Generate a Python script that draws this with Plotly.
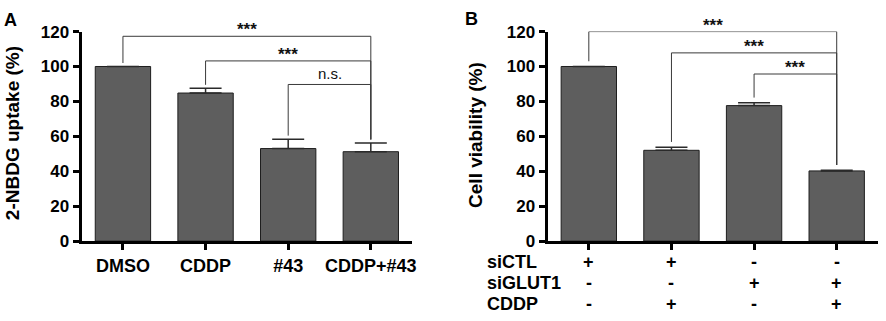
import plotly.graph_objects as go

# ---------------- data ----------------
cats_a = ["DMSO", "CDDP", "#43", "CDDP+#43"]
vals_a = [100, 84.8, 53.0, 51.2]
errs_a = [0, 2.7, 5.4, 5.0]

vals_b = [100, 52.0, 77.6, 40.2]
errs_b = [0, 1.8, 1.6, 0.4]
row_labels_b = ["siCTL", "siGLUT1", "CDDP"]
row_siCTL = ["+", "+", "-", "-"]
row_siGLUT1 = ["-", "-", "+", "+"]
row_CDDP = ["-", "+", "-", "+"]

# comparisons: (left index, right index, bracket height, label)
comp_a = [(0, 3, 117.3, "***"), (1, 3, 103.2, "***"), (2, 3, 89.7, "n.s.")]
comp_b = [(0, 3, 120.0, "***"), (1, 3, 107.8, "***"), (2, 3, 95.7, "***")]

ytitle_a = "2-NBDG uptake (%)"
ytitle_b = "Cell viability (%)"

# ---------------- styling ----------------
W, H = 886, 321
FONT = "Liberation Sans, Arial, sans-serif"
BAR_COLOR = "#5e5e5e"
LINE = "#3a3a3a"

def px_x(p):
    return p / W

def px_y(p):
    return (H - p) / H

y_dom = [px_y(246.7), px_y(24)]
xa_dom = [px_x(82), px_x(414)]
xb_dom = [px_x(550), px_x(882)]

xpos = list(range(4))

fig = go.Figure()

def add_bars(vals, errs, xaxis, yaxis):
    fig.add_trace(go.Bar(
        x=xpos, y=vals, width=0.67,
        marker=dict(color=BAR_COLOR, line=dict(color="#1e1e1e", width=1)),
        error_y=dict(type="data", array=errs, arrayminus=[0] * len(errs),
                     symmetric=False, color="#2a2a2a", thickness=1.5, width=16),
        xaxis=xaxis, yaxis=yaxis, showlegend=False, hoverinfo="y",
    ))

add_bars(vals_a, errs_a, "x", "y")
add_bars(vals_b, errs_b, "x2", "y2")

shapes = []
annotations = []

def add_brackets(comps, vals, errs, xref, yref, gap):
    for (i, j, h, lab) in comps:
        li = vals[i] + errs[i] + gap
        rj = vals[j] + errs[j] + gap
        path = f"M {i},{li} L {i},{h} L {j},{h} L {j},{rj}"
        shapes.append(dict(type="path", path=path, xref=xref, yref=yref,
                           line=dict(color=LINE, width=1)))
        is_star = lab.startswith("*")
        annotations.append(dict(
            x=(i + j) / 2, y=h, xref=xref, yref=yref, text=lab,
            showarrow=False, yanchor="bottom", xanchor="center",
            yshift=(-5 if is_star else 0),
            font=dict(family=FONT, size=17 if is_star else 15, color="#111",
                      weight="bold" if is_star else "normal"),
        ))

add_brackets(comp_a, vals_a, errs_a, "x", "y", 2.0)
add_brackets(comp_b, vals_b, errs_b, "x2", "y2", 3.0)

BOLD18 = dict(family=FONT, size=18, color="#000", weight="bold")

# y titles
annotations.append(dict(x=px_x(12), y=px_y(132), xref="paper", yref="paper",
                        text=ytitle_a, textangle=-90, showarrow=False,
                        xanchor="center", yanchor="middle",
                        font=dict(family=FONT, size=19, color="#000", weight="bold")))
annotations.append(dict(x=px_x(477), y=px_y(134), xref="paper", yref="paper",
                        text=ytitle_b, textangle=-90, showarrow=False,
                        xanchor="center", yanchor="middle",
                        font=dict(family=FONT, size=19, color="#000", weight="bold")))

# panel letters
annotations.append(dict(x=px_x(11), y=px_y(12), xref="paper", yref="paper",
                        text="A", showarrow=False, xanchor="center",
                        yanchor="middle", font=BOLD18))
annotations.append(dict(x=px_x(474), y=px_y(11), xref="paper", yref="paper",
                        text="B", showarrow=False, xanchor="center",
                        yanchor="middle", font=BOLD18))

# condition table under panel B
row_y = [268.5, 291, 313.5]
rows = [row_siCTL, row_siGLUT1, row_CDDP]
for lab, ry, row in zip(row_labels_b, row_y, rows):
    annotations.append(dict(x=px_x(487), y=px_y(ry), xref="paper", yref="paper",
                            text=lab, showarrow=False, xanchor="left",
                            yanchor="middle", font=BOLD18))
    for k, sym in enumerate(row):
        annotations.append(dict(x=xpos[k], y=px_y(ry), xref="x2", yref="paper",
                                text=sym, showarrow=False, xanchor="center",
                                yanchor="middle", font=BOLD18))

axis_common = dict(showline=True, linecolor="#000", linewidth=3, ticks="outside",
                   ticklen=6, tickwidth=3, tickcolor="#000", showgrid=False,
                   zeroline=False, fixedrange=True)

TICKFONT = dict(size=17, family=FONT, color="#000", weight="bold")

fig.update_layout(
    width=W, height=H, autosize=False,
    margin=dict(l=0, r=0, t=0, b=0),
    paper_bgcolor="white", plot_bgcolor="white",
    font=dict(family=FONT, color="#000"),
    xaxis=dict(domain=xa_dom, anchor="y", range=[-0.5, 3.5], tickmode="array",
               tickvals=xpos, ticktext=cats_a, tickfont=BOLD18, **axis_common),
    yaxis=dict(domain=y_dom, anchor="x", range=[0, 120], tickmode="linear", tick0=0,
               dtick=20, tickfont=TICKFONT, **axis_common),
    xaxis2=dict(domain=xb_dom, anchor="y2", range=[-0.5, 3.5], tickmode="array",
                tickvals=xpos, ticktext=["", "", "", ""], **axis_common),
    yaxis2=dict(domain=y_dom, anchor="x2", range=[0, 120], tickmode="linear", tick0=0,
                dtick=20, tickfont=TICKFONT, **axis_common),
    shapes=shapes, annotations=annotations, bargap=0.33,
)

fig.write_html("out.html", config={"displayModeBar": False},
               post_script="document.body.style.margin='0';document.body.style.overflow='hidden';")
